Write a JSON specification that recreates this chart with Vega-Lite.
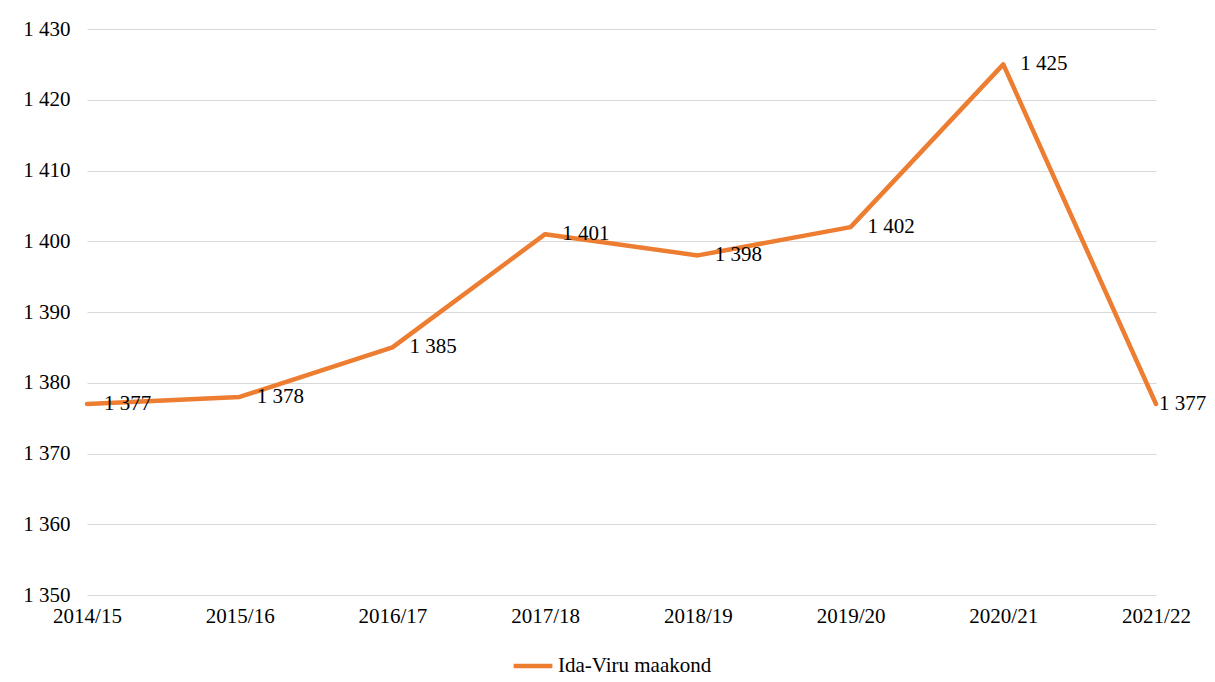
{
  "$schema": "https://vega.github.io/schema/vega-lite/v6.json",
  "width": 1069,
  "height": 566,
  "autosize": {"type": "none"},
  "padding": {"left": 87, "top": 29, "right": 59, "bottom": 87},
  "background": "white",
  "config": {
    "locale": {"number": {"decimal": ",", "thousands": " ", "grouping": [3], "currency": ["", ""]}},
    "font": "Liberation Serif",
    "view": {"stroke": null},
    "axis": {"labelFont": "Liberation Serif", "labelFontSize": 21, "labelColor": "#000000", "title": null}
  },
  "data": {
    "values": [
      {"aasta": "2014/15", "vaartus": 1377, "maakond": "Ida-Viru maakond"},
      {"aasta": "2015/16", "vaartus": 1378, "maakond": "Ida-Viru maakond"},
      {"aasta": "2016/17", "vaartus": 1385, "maakond": "Ida-Viru maakond"},
      {"aasta": "2017/18", "vaartus": 1401, "maakond": "Ida-Viru maakond"},
      {"aasta": "2018/19", "vaartus": 1398, "maakond": "Ida-Viru maakond"},
      {"aasta": "2019/20", "vaartus": 1402, "maakond": "Ida-Viru maakond"},
      {"aasta": "2020/21", "vaartus": 1425, "maakond": "Ida-Viru maakond"},
      {"aasta": "2021/22", "vaartus": 1377, "maakond": "Ida-Viru maakond"}
    ]
  },
  "encoding": {
    "x": {
      "field": "aasta", "type": "ordinal", "sort": null,
      "scale": {"type": "point", "padding": 0},
      "axis": {"labelAngle": 0, "ticks": false, "domain": false, "grid": false, "labelPadding": 10}
    },
    "y": {
      "field": "vaartus", "type": "quantitative",
      "scale": {"domain": [1350, 1430], "nice": false, "zero": false},
      "axis": {
        "values": [1350, 1360, 1370, 1380, 1390, 1400, 1410, 1420, 1430],
        "labelExpr": "format(datum.value, ',d')", "ticks": false, "domain": false, "grid": true,
        "gridColor": "#d9d9d9", "gridWidth": 1, "labelPadding": 17
      }
    }
  },
  "layer": [
    {
      "mark": {"type": "line", "strokeWidth": 4.5, "strokeJoin": "round", "strokeCap": "round"},
      "encoding": {
        "color": {
          "field": "maakond", "type": "nominal",
          "scale": {"range": ["#ED7D31"]},
          "legend": {
            "title": null, "orient": "none", "legendX": 424, "legendY": 615,
            "direction": "horizontal", "symbolType": "stroke", "symbolSize": 1500,
            "symbolStrokeWidth": 4.5, "labelFontSize": 21, "labelFont": "Liberation Serif",
            "labelColor": "#000000", "labelOffset": 3
          }
        }
      }
    },
    {
      "transform": [{"filter": "datum.aasta != '2021/22'"}],
      "mark": {"type": "text", "align": "left", "baseline": "middle", "dx": 17, "fontSize": 21, "color": "#000000"},
      "encoding": {"text": {"field": "vaartus", "type": "quantitative", "format": ","}}
    },
    {
      "transform": [{"filter": "datum.aasta == '2021/22'"}],
      "mark": {"type": "text", "align": "left", "baseline": "middle", "dx": 3, "fontSize": 21, "color": "#000000"},
      "encoding": {"text": {"field": "vaartus", "type": "quantitative", "format": ","}}
    }
  ]
}
